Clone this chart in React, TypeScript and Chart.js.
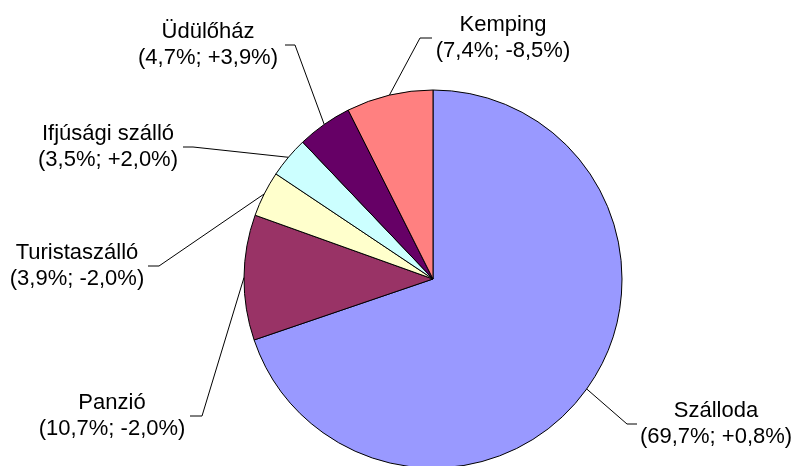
import React, { useEffect, useRef } from "react";
import { Chart, registerables } from "chart.js";

Chart.register(...registerables);

const categories = ["Szálloda", "Panzió", "Turistaszálló", "Ifjúsági szálló", "Üdülőház", "Kemping"];
const shares = [69.7, 10.7, 3.9, 3.5, 4.7, 7.4];
const changes = ["+0,8%", "-2,0%", "-2,0%", "+2,0%", "+3,9%", "-8,5%"];
const colors = ["#9999FF", "#993366", "#FFFFCC", "#CCFFFF", "#660066", "#FF8080"];

// layout: label block centre, elbow point of the leader, and end of the short horizontal leader
const labelLayout = [
  { cx: 716, cy: 424, elbowX: 627, endX: 637 },
  { cx: 112, cy: 416, elbowX: 202, endX: 190 },
  { cx: 77, cy: 266, elbowX: 159, endX: 148 },
  { cx: 108, cy: 147, elbowX: 193, endX: 183 },
  { cx: 208, cy: 45, elbowX: 295, endX: 285 },
  { cx: 503, cy: 38, elbowX: 420, endX: 432 },
];

const fmt = (v: number) => v.toFixed(1).replace(".", ",") + "%";

const labelPlugin = {
  id: "leaderLabels",
  afterDraw(chart: any) {
    const ctx = chart.ctx;
    const meta = chart.getDatasetMeta(0);
    ctx.save();
    meta.data.forEach((arc: any, i: number) => {
      const p = arc.getProps(["x", "y", "startAngle", "endAngle", "outerRadius"], true);
      const mid = (p.startAngle + p.endAngle) / 2;
      const ax = p.x + Math.cos(mid) * p.outerRadius;
      const ay = p.y + Math.sin(mid) * p.outerRadius;
      const L = labelLayout[i];
      ctx.strokeStyle = "#000";
      ctx.lineWidth = 1;
      ctx.beginPath();
      ctx.moveTo(ax, ay);
      ctx.lineTo(L.elbowX, L.cy);
      ctx.lineTo(L.endX, L.cy);
      ctx.stroke();
      ctx.fillStyle = "#000";
      ctx.font = '22px "Liberation Sans", Arial, sans-serif';
      ctx.textAlign = "center";
      ctx.textBaseline = "middle";
      ctx.fillText(categories[i], L.cx, L.cy - 13);
      ctx.fillText("(" + fmt(shares[i]) + "; " + changes[i] + ")", L.cx, L.cy + 13);
    });
    ctx.restore();
  },
};

export default function App() {
  const ref = useRef<HTMLCanvasElement | null>(null);
  useEffect(() => {
    if (!ref.current) return;
    const chart = new Chart(ref.current, {
      type: "pie",
      data: {
        labels: categories,
        datasets: [
          {
            data: shares,
            backgroundColor: colors,
            borderColor: "#000",
            borderWidth: 1,
            radius: 189,
          } as any,
        ],
      },
      options: {
        animation: false,
        responsive: false,
        devicePixelRatio: 1,
        layout: { padding: { left: 71, top: 92, right: 0, bottom: 0 } },
        plugins: { legend: { display: false }, tooltip: { enabled: false } },
      },
      plugins: [labelPlugin],
    });
    return () => chart.destroy();
  }, []);
  return (
    <div style={{ position: "absolute", left: 0, top: 0, width: 795, height: 466, background: "#fff" }}>
      <canvas ref={ref} width={795} height={466} />
    </div>
  );
}
